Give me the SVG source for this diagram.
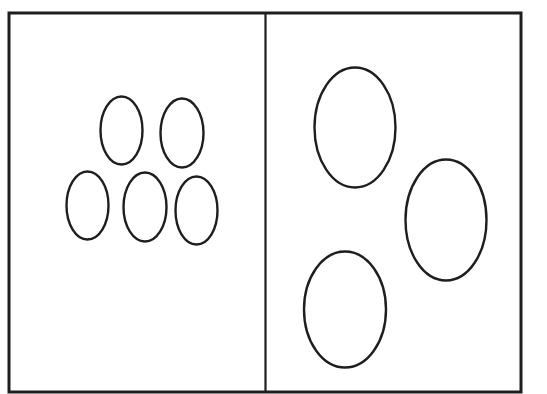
<svg xmlns="http://www.w3.org/2000/svg" width="547" height="394" viewBox="0 0 547 394">
<style>
.frame{fill:none;stroke:#1e1e1e;stroke-width:3}
.div{fill:none;stroke:#1e1e1e;stroke-width:2.2}
.ov{fill:none;stroke:#1e1e1e;stroke-width:2.4}
</style>
<rect x="0" y="0" width="547" height="394" fill="#ffffff"/>
<rect class="frame" x="9" y="13" width="512" height="379"/>
<line class="div" x1="265.5" y1="13" x2="265.5" y2="392"/>
<g id="left">
<ellipse class="ov" cx="121.5" cy="130.5" rx="21" ry="34"/>
<ellipse class="ov" cx="182" cy="133" rx="21.5" ry="34.5"/>
<ellipse class="ov" cx="87.5" cy="205.5" rx="21" ry="34"/>
<ellipse class="ov" cx="145" cy="207" rx="21.5" ry="34.5"/>
<ellipse class="ov" cx="196.5" cy="210.5" rx="21" ry="34"/>
</g>
<g id="right">
<ellipse class="ov" cx="355" cy="127.5" rx="40.5" ry="60"/>
<ellipse class="ov" cx="446" cy="220" rx="40.5" ry="60.5"/>
<ellipse class="ov" cx="345" cy="309.5" rx="41" ry="58"/>
</g>
</svg>
